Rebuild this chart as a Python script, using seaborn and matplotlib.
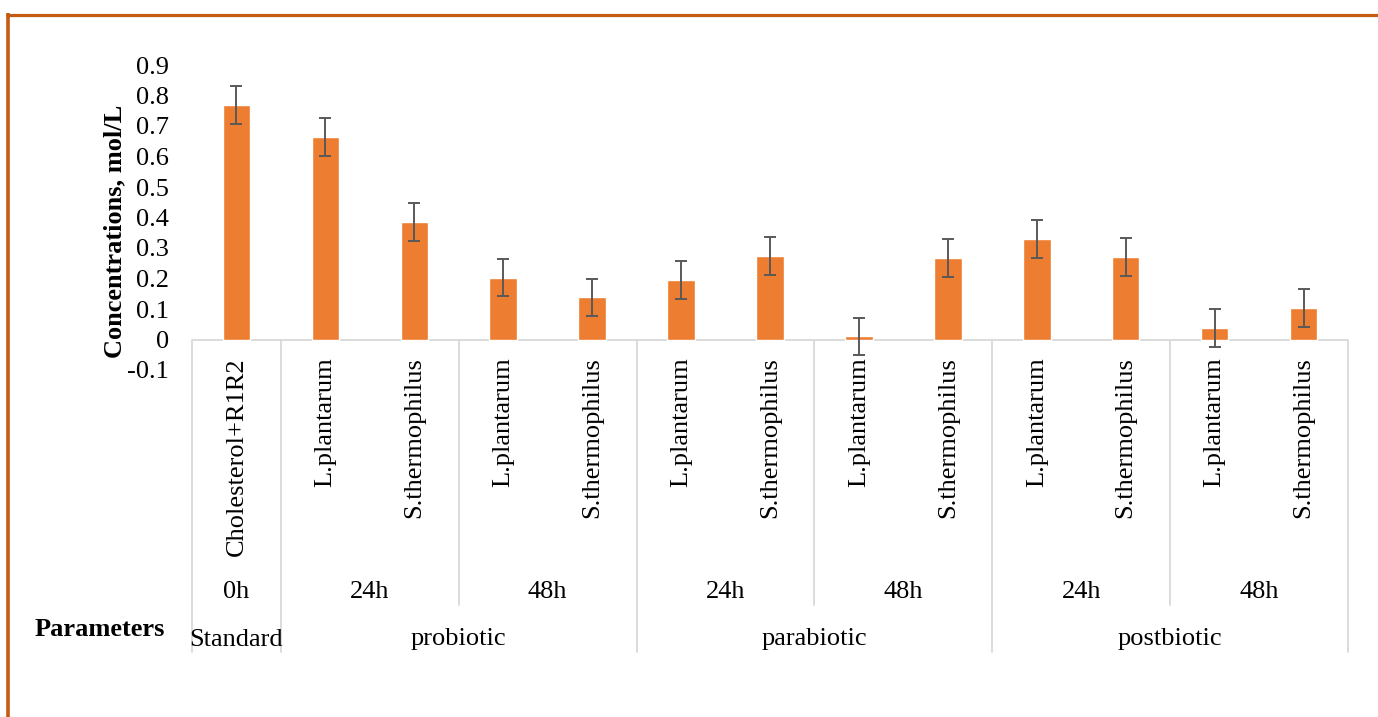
import matplotlib
matplotlib.use("Agg")
import matplotlib.pyplot as plt
import matplotlib.transforms as mtransforms
from matplotlib.lines import Line2D
import numpy as np
import pandas as pd
import seaborn as sns

# ---- data -------------------------------------------------------------
groups = ["Standard", "probiotic", "parabiotic", "postbiotic"]
group_sizes = [1, 4, 4, 4]
times = ["0h", "24h", "48h", "24h", "48h", "24h", "48h"]
time_sizes = [1, 2, 2, 2, 2, 2, 2]
samples = ["Cholesterol+R1R2",
           "L.plantarum", "S.thermophilus", "L.plantarum", "S.thermophilus",
           "L.plantarum", "S.thermophilus", "L.plantarum", "S.thermophilus",
           "L.plantarum", "S.thermophilus", "L.plantarum", "S.thermophilus"]
concentration = [0.768, 0.665, 0.386, 0.203, 0.138, 0.196, 0.274,
                 0.010, 0.268, 0.330, 0.270, 0.038, 0.104]
error = [0.062] * 13
ytick_values = [-0.1, 0.0, 0.1, 0.2, 0.3, 0.4, 0.5, 0.6, 0.7, 0.8, 0.9]

# ---- style ------------------------------------------------------------
sns.set_style("white")
plt.rcParams["font.family"] = ["Liberation Serif", "DejaVu Serif"]
plt.rcParams["text.color"] = "black"
plt.rcParams["ytick.labelcolor"] = "black"
FS = 19
BAR = "#ED7D31"
ERR = "#595959"
GRID = "#D9D9D9"
FRAME = "#C55A11"

W, H = 1378, 717
fig = plt.figure(figsize=(W / 100, H / 100), dpi=100)


def fx(px):
    return px / W


def fy(py):
    return 1 - py / H


ax = fig.add_axes([fx(192), fy(370), fx(1348) - fx(192), fy(65) - fy(370)])

keys = [f"{i:02d}" for i in range(len(samples))]
df = pd.DataFrame({"key": keys, "sample": samples, "conc": concentration})

sns.barplot(data=df, x="key", y="conc", order=keys, color=BAR,
            saturation=1, width=0.31, errorbar=None, ax=ax, zorder=2)
ax.errorbar(np.arange(len(samples)), concentration, yerr=error, fmt="none",
            ecolor=ERR, elinewidth=1.4, capsize=4.2, capthick=1.4, zorder=3)

ax.set_xlim(-0.5, len(samples) - 0.5)
ax.set_ylim(-0.1, 0.9)
ax.set_yticks(ytick_values)
ax.set_yticklabels([f"{round(v, 1):g}" for v in ytick_values], fontsize=FS,
                   color="black")
ax.tick_params(axis="y", length=0, pad=16.5, labelcolor="black")
ax.set_xticks([])
ax.set_xlabel("")
ax.set_ylabel("")
for s in ax.spines.values():
    s.set_visible(False)

# category axis line at zero
ax.axhline(0, color=GRID, lw=1.3, zorder=1)

trans = mtransforms.blended_transform_factory(ax.transData, fig.transFigure)

# species labels
for i, name in enumerate(samples):
    ax.text(i, fy(357), name, transform=trans, rotation=90, color="black",
            rotation_mode="anchor", ha="right", va="center", fontsize=FS)

# time labels and short separators
edges = np.cumsum([0] + time_sizes) - 0.5
for t, a, b in zip(times, edges[:-1], edges[1:]):
    ax.text((a + b) / 2, fy(598), t, transform=trans, ha="center",
            va="baseline", fontsize=FS, color="black")
group_edges = np.cumsum([0] + group_sizes) - 0.5
for e in edges:
    if e not in group_edges:
        ax.add_line(Line2D([e, e], [fy(339.5), fy(605)], transform=trans,
                           color=GRID, lw=1.3, clip_on=False))

# group labels and long separators
for g, a, b in zip(groups, group_edges[:-1], group_edges[1:]):
    ax.text((a + b) / 2, fy(645.5), g, transform=trans, ha="center",
            va="baseline", fontsize=FS, color="black")
for e in group_edges:
    ax.add_line(Line2D([e, e], [fy(339.5), fy(652)], transform=trans,
                       color=GRID, lw=1.3, clip_on=False))

fig.text(fx(35), fy(636), "Parameters", ha="left", va="baseline",
         fontsize=FS, fontweight="bold", color="black")
fig.text(fx(115), fy(231), "Concentrations, mol/L", rotation=90,
         ha="center", va="center", fontsize=FS, fontweight="bold",
         color="black")

# outer frame strokes
fig.add_artist(Line2D([fx(6), 1], [fy(14.5), fy(14.5)], color=FRAME,
                      lw=2.3, transform=fig.transFigure,
                      solid_capstyle="butt"))
fig.add_artist(Line2D([fx(8), fx(8)], [fy(13), 0], color=FRAME,
                      lw=2.6, transform=fig.transFigure,
                      solid_capstyle="butt"))

fig.savefig("out.png", dpi=100)
